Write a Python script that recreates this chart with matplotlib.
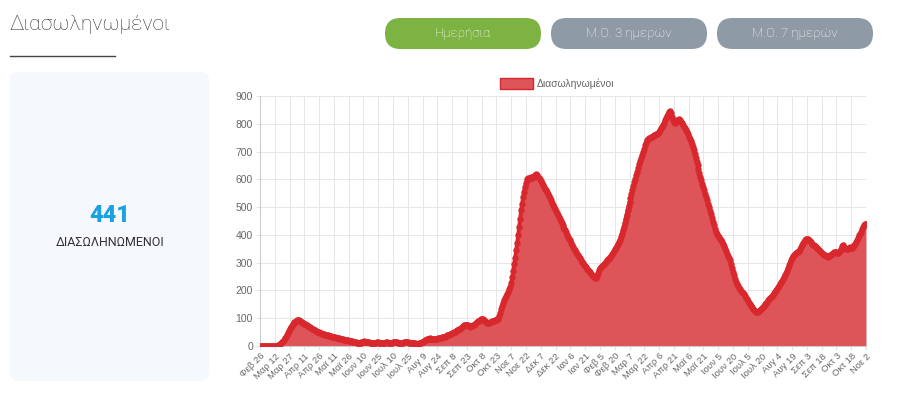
import matplotlib
matplotlib.use("Agg")
import matplotlib.pyplot as plt
from matplotlib.patches import FancyBboxPatch, Rectangle

# daily intubated patients, 26 Feb 2020 .. 2 Nov 2021
feb20 = [0, 0, 0, 0]
mar20 = [0]*14 + [2, 4, 6, 10, 13, 18, 22, 28, 34, 40, 48, 55, 62, 68, 73, 78, 82]
apr20 = [85, 88, 91, 93, 93, 92, 90, 88, 86, 83, 81, 79, 77, 75, 73, 70, 68, 65, 63, 60,
         58, 56, 54, 52, 50, 49, 47, 46, 45, 43]
may20 = [42, 41, 40, 39, 38, 37, 36, 35, 34, 33, 32, 31, 30, 29, 28, 28, 27, 26, 25, 24,
         23, 22, 21, 21, 20, 19, 18, 18, 17, 16, 16]
jun20 = [14, 13, 12, 11, 10, 10, 11, 13, 15, 16, 17, 16, 15, 14, 13, 13, 12, 12, 12, 11,
         11, 12, 12, 13, 13, 12, 12, 11, 11, 12]
jul20 = [12, 12, 13, 13, 12, 12, 11, 11, 12, 13, 14, 14, 13, 13, 12, 12, 11, 11, 12, 12,
         13, 13, 14, 14, 13, 12, 11, 11, 10, 10, 10]
aug20 = [10, 9, 9, 9, 10, 11, 12, 14, 16, 18, 20, 22, 24, 26, 27, 27, 28, 27, 26, 26,
         25, 25, 26, 27, 28, 29, 30, 30, 31, 32, 33]
sep20 = [34, 36, 38, 40, 41, 42, 44, 46, 48, 50, 52, 54, 56, 58, 60, 62, 65, 68, 71, 74,
         76, 77, 76, 74, 72, 70, 71, 73, 74, 76]
oct20 = [80, 84, 87, 89, 91, 94, 97, 99, 97, 94, 90, 86, 84, 83, 84, 85, 87, 89, 90, 91,
         92, 93, 94, 96, 99, 108, 120, 132, 144, 155, 164]
nov20 = [172, 180, 188, 196, 204, 213, 228, 248, 270, 294, 318, 344, 370, 398, 428, 458,
         488, 512, 535, 556, 574, 588, 600, 604, 603, 605, 608, 606, 609, 612]
dec20 = [614, 618, 616, 610, 606, 600, 594, 586, 578, 572, 566, 560, 553, 546, 540, 532,
         524, 516, 508, 500, 492, 485, 478, 470, 463, 457, 450, 443, 436, 430, 423]
jan21 = [416, 409, 401, 394, 387, 380, 372, 364, 357, 350, 344, 338, 333, 328, 322, 317,
         311, 304, 298, 293, 288, 283, 279, 274, 270, 265, 261, 256, 252, 249, 246]
feb21 = [245, 252, 262, 272, 280, 284, 287, 291, 296, 300, 304, 308, 312, 315, 320, 325,
         330, 335, 342, 348, 354, 361, 368, 375, 382, 392, 404, 416]
mar21 = [428, 442, 458, 473, 488, 503, 517, 532, 547, 562, 575, 589, 602, 615, 628, 642,
         655, 666, 677, 688, 698, 710, 722, 732, 740, 746, 748, 750, 752, 754, 756]
apr21 = [758, 760, 762, 765, 768, 772, 778, 784, 790, 797, 804, 812, 820, 828, 836, 842,
         847, 838, 826, 812, 806, 804, 808, 812, 815, 816, 813, 808, 802, 796]
may21 = [790, 784, 778, 770, 762, 754, 746, 738, 728, 716, 704, 692, 678, 664, 650, 636,
         622, 608, 596, 584, 572, 560, 548, 536, 524, 512, 500, 487, 474, 460, 447]
jun21 = [434, 422, 410, 402, 396, 391, 387, 382, 376, 368, 359, 350, 341, 333, 325, 317,
         309, 296, 282, 268, 255, 243, 232, 224, 216, 210, 204, 199, 195, 191]
jul21 = [186, 180, 174, 168, 162, 156, 150, 145, 140, 135, 130, 126, 123, 122, 123, 125,
         128, 132, 136, 140, 144, 148, 152, 156, 160, 164, 168, 172, 176, 180, 185]
aug21 = [190, 195, 200, 205, 211, 217, 223, 229, 235, 242, 248, 255, 262, 270, 280, 290,
         300, 310, 318, 324, 328, 332, 335, 337, 340, 343, 348, 355, 363, 370, 376]
sep21 = [381, 384, 386, 385, 382, 378, 373, 369, 365, 362, 359, 357, 354, 350, 346, 342,
         338, 334, 331, 328, 326, 324, 323, 322, 324, 326, 328, 331, 333, 335]
oct21 = [337, 340, 338, 336, 335, 338, 342, 350, 360, 365, 358, 352, 350, 349, 351, 353,
         355, 353, 352, 356, 362, 368, 374, 381, 390, 398, 405, 412, 420, 428, 434]
nov21 = [438, 441]

intubated = (feb20 + mar20 + apr20 + may20 + jun20 + jul20 + aug20 + sep20 + oct20 +
             nov20 + dec20 + jan21 + feb21 + mar21 + apr21 + may21 + jun21 + jul21 +
             aug21 + sep21 + oct21 + nov21)

tick_labels = ["Φεβ 26", "Μαρ 12", "Μαρ 27", "Απρ 11", "Απρ 26", "Μαϊ 11", "Μαϊ 26",
               "Ιουν 10", "Ιουν 25", "Ιουλ 10", "Ιουλ 25", "Αυγ 9", "Αυγ 24", "Σεπ 8",
               "Σεπ 23", "Οκτ 8", "Οκτ 23", "Νοε 7", "Νοε 22", "Δεκ 7", "Δεκ 22",
               "Ιαν 6", "Ιαν 21", "Φεβ 5", "Φεβ 20", "Μαρ 7", "Μαρ 22", "Απρ 6",
               "Απρ 21", "Μαϊ 6", "Μαϊ 21", "Ιουν 5", "Ιουν 20", "Ιουλ 5", "Ιουλ 20",
               "Αυγ 4", "Αυγ 19", "Σεπ 3", "Σεπ 18", "Οκτ 3", "Οκτ 18", "Νοε 2"]
tick_step = 15

title = "Διασωληνωμένοι"
buttons = ["Ημερήσια", "Μ.Ο. 3 ημερών", "Μ.Ο. 7 ημερών"]
latest = intubated[-1]

W, H = 900, 409
fig = plt.figure(figsize=(W/100, H/100), dpi=100)

# page overlay in pixel coordinates
bg = fig.add_axes([0, 0, 1, 1])
bg.set_xlim(0, W)
bg.set_ylim(H, 0)
bg.axis("off")
bg.set_zorder(0)

bg.text(9, 24, title, fontsize=15, family="Roboto", weight="light",
        color="#333333", va="center", ha="left")
bg.plot([10, 115], [56, 56], color="#444444", lw=1)

btn_x = [385, 551, 717]
btn_colors = ["#7cb342", "#8e9aa6", "#8e9aa6"]
for x0, label, c in zip(btn_x, buttons, btn_colors):
    bw, bh = 156, 31
    bg.add_patch(FancyBboxPatch((x0, 18), bw, bh,
                                boxstyle="round,pad=0,rounding_size=15.5",
                                fc=c, ec="none"))
    bg.text(x0 + bw/2, 33.5, label, fontsize=9.5, family="Roboto", weight="light",
            color="white", ha="center", va="center")

bg.add_patch(FancyBboxPatch((18, 80), 183, 293, boxstyle="round,pad=8",
                            fc="#f5f8fc", ec="none"))
bg.text(110, 215, str(latest), fontsize=17, family="Roboto", weight="black",
        color="#1ba1e2", ha="center", va="center")
bg.text(110, 242, "ΔΙΑΣΩΛΗΝΩΜΕΝΟΙ", fontsize=9, family="Roboto",
        color="#333333", ha="center", va="center")

# legend (chart.js style)
bg.add_patch(Rectangle((500, 78), 33, 11, fc="#dd5459", ec="#d8282e", lw=1))
bg.text(537, 84, title, fontsize=7.5, family="Liberation Sans", color="#666666",
        ha="left", va="center")

# chart
ax = fig.add_axes([260/W, (H-346)/H, (866-260)/W, (346-96)/H])
ax.set_zorder(1)
ax.patch.set_alpha(0)
x = list(range(len(intubated)))
ax.fill_between(x, intubated, 0, color="#dd5459", lw=0, zorder=2)
ax.plot(x, intubated, color="#d8282e", lw=2.8, marker="o", ms=3.6,
        mec="#d8282e", mfc="#d8282e", zorder=3)

ax.set_xlim(0, len(intubated) - 1)
ax.set_ylim(0, 900)
ax.set_yticks(range(0, 901, 100))
ax.set_xticks(range(0, len(intubated), tick_step))
ax.set_xticklabels(tick_labels, rotation=45, ha="right", rotation_mode="anchor",
                   fontsize=6.8, family="Liberation Sans", color="#666666")
for lab in ax.get_yticklabels():
    lab.set_fontsize(7.5)
    lab.set_family("Liberation Sans")
    lab.set_color("#666666")
ax.grid(True, color="#e6e6e6", lw=0.7, zorder=0)
ax.set_axisbelow(True)
ax.tick_params(axis="y", length=3, color="#e6e6e6", pad=2)
ax.tick_params(axis="x", length=3, color="#e6e6e6", pad=1)
for s in ["top", "right"]:
    ax.spines[s].set_visible(False)
for s in ["left", "bottom"]:
    ax.spines[s].set_color("#cccccc")
    ax.spines[s].set_linewidth(0.8)

fig.savefig("out.png", dpi=100)
